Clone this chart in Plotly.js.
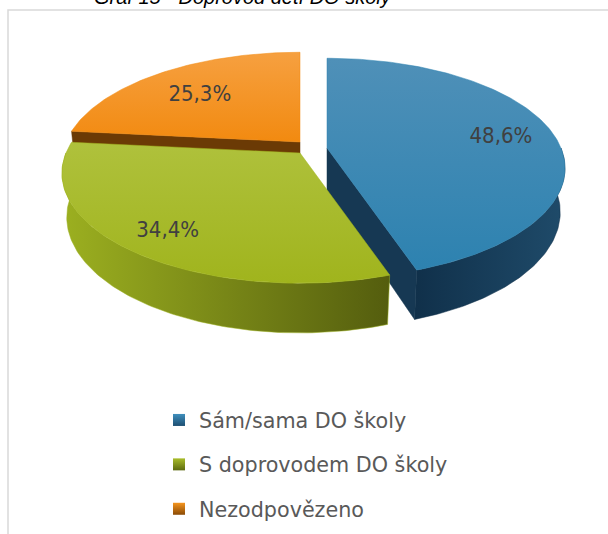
<!DOCTYPE html>
<html>
<head>
<meta charset="utf-8">
<script src="https://cdn.plot.ly/plotly-3.0.1.min.js"></script>
<style>
html,body{margin:0;padding:0;background:#fff;}
#chart{width:608px;height:534px;}
</style>
</head>
<body>
<div id="chart"></div>
<script>
// ---- data ----
const chartTitle = 'Graf 15 - Doprovod dětí DO školy';
const categories = ['Sám/sama DO školy', 'S doprovodem DO školy', 'Nezodpovězeno'];
const values = [48.6, 34.4, 25.3];
const labelTexts = values.map(v => v.toFixed(1).replace('.', ',') + '%');

// ---- style / geometry of the 3D pie ----
const W = 608, Hpx = 534;
const S = 234, PHI = 27 * Math.PI / 180, DCAM = 4.85, DEPTH = 0.212;
const centers = [[327, 148], [300, 153], [300, 142]];
const topGrad = [['#4f90b8', '#2d82b0'], ['#afc13c', '#a0b41d'], ['#f6a040', '#f28a10']];
const wallGrad = [['#10304a', '#1f4b6a'], ['#9cb020', '#545d0e'], ['#7a4406', '#5e3303']];
const faceCol = ['#163853', '#7f9018', '#6b3a05'];
const legendCol = [['#3f8fbd', '#1d4f72'], ['#a9bd2a', '#5d6a10'], ['#f5951e', '#8a4a05']];
const labelR = [0.77, 0.8, 0.7];
const labelDy = [2, 4, 4];

function proj(c, r, thDeg, z) {
  const th = thDeg * Math.PI / 180;
  const X = r * Math.sin(th), Y = r * Math.cos(th);
  const cp = Math.cos(PHI), sp = Math.sin(PHI);
  const dist = DCAM + Y * cp - z * sp;
  const k = DCAM / dist * S;
  return [c[0] + X * k, c[1] - (Y * sp + z * cp) * k];
}
function arc(c, a, b, z) {
  const pts = [];
  const n = Math.max(2, Math.ceil(Math.abs(b - a)));
  for (let i = 0; i <= n; i++) pts.push(proj(c, 1, a + (b - a) * i / n, z));
  return pts;
}
function poly(pts, fill) {
  const t = {
    type: 'scatter', mode: 'lines', fill: 'toself',
    x: pts.map(p => p[0]).concat([pts[0][0]]),
    y: pts.map(p => p[1]).concat([pts[0][1]]),
    line: {width: 0.5, color: typeof fill === 'string' ? fill : fill.edge},
    hoverinfo: 'skip', showlegend: false
  };
  if (typeof fill === 'string') t.fillcolor = fill;
  else t.fillgradient = fill.grad;
  return t;
}

const total = values.reduce((a, b) => a + b, 0);
const starts = [], ends = [];
let acc = 0;
values.forEach(v => { starts.push(acc / total * 360); acc += v; ends.push(acc / total * 360); });

const traces = [];
const drawOrder = [2, 0, 1];
drawOrder.forEach(i => {
  const c = centers[i], a1 = starts[i], a2 = ends[i];
  // outer wall (front half)
  const wa = Math.max(a1, 90), wb = Math.min(a2, 270);
  if (wb > wa) {
    const topA = arc(c, wa, wb, 0), botA = arc(c, wb, wa, -DEPTH);
    const pts = topA.concat(botA);
    const xs = pts.map(p => p[0]);
    traces.push(poly(pts, {edge: wallGrad[i][0], grad: {type: 'horizontal',
      start: Math.min(...xs), stop: Math.max(...xs),
      colorscale: [[0, wallGrad[i][0]], [1, wallGrad[i][1]]]}}));
  }
  // radial faces facing the viewer
  [[a1, Math.sin(a1 * Math.PI / 180) < -0.01], [a2, Math.sin(a2 * Math.PI / 180) > 0.01]].forEach(([a, vis]) => {
    if (!vis) return;
    const pts = [proj(c, 0, a, 0), proj(c, 1, a, 0), proj(c, 1, a, -DEPTH), proj(c, 0, a, -DEPTH)];
    traces.push(poly(pts, faceCol[i]));
  });
  // top surface
  const pts = [proj(c, 0, 0, 0)].concat(arc(c, a1, a2, 0));
  const ys = pts.map(p => p[1]);
  traces.push(poly(pts, {edge: topGrad[i][1], grad: {type: 'vertical',
    start: Math.min(...ys), stop: Math.max(...ys),
    colorscale: [[0, topGrad[i][0]], [1, topGrad[i][1]]]}}));
});

// data labels
const lp = values.map((v, i) => proj(centers[i], labelR[i], (starts[i] + ends[i]) / 2, 0));
traces.push({
  type: 'scatter', mode: 'text', x: lp.map(p => p[0]), y: lp.map((p, i) => p[1] + labelDy[i]),
  text: labelTexts, textposition: 'middle center', cliponaxis: false,
  textfont: {family: 'DejaVu Sans Condensed, DejaVu Sans, sans-serif', size: 22, color: '#404040'},
  hoverinfo: 'skip', showlegend: false
});

// legend entries
categories.forEach((name, i) => {
  traces.push({
    type: 'scatter', mode: 'markers', x: [null], y: [null], name: name,
    legendgroup: 'g' + i, showlegend: true,
    marker: {symbol: 'square', size: 12, color: legendCol[i][0],
      gradient: {type: 'vertical', color: legendCol[i][1]}, line: {width: 0}}
  });
});

const layout = {
  width: W, height: Hpx,
  margin: {l: 0, r: 0, t: 0, b: 0},
  paper_bgcolor: '#ffffff', plot_bgcolor: '#ffffff',
  xaxis: {range: [0, W], visible: false, fixedrange: true},
  yaxis: {range: [Hpx, 0], visible: false, fixedrange: true},
  showlegend: true,
  legend: {
    x: 159 / W, y: 1 - 400 / Hpx, xanchor: 'left', yanchor: 'top',
    font: {family: 'DejaVu Sans, sans-serif', size: 20.7, color: '#595959'},
    tracegroupgap: 14.5, itemclick: false, itemdoubleclick: false,
    bgcolor: 'rgba(0,0,0,0)'
  },
  shapes: [{
    type: 'rect', xref: 'paper', yref: 'paper',
    x0: 8 / W, x1: 1.05, y0: -0.05, y1: 1 - 10 / Hpx,
    line: {color: '#d9d9d9', width: 1.5}, fillcolor: 'rgba(0,0,0,0)', layer: 'below'
  }],
  annotations: [{
    text: '<i>' + chartTitle + '</i>', xref: 'paper', yref: 'paper',
    x: 243 / W, y: 1 + 3 / Hpx, xanchor: 'center', yanchor: 'middle',
    showarrow: false,
    font: {family: 'Liberation Sans, Arial, sans-serif', size: 20, color: '#000000'}
  }]
};

Plotly.newPlot('chart', traces, layout, {displayModeBar: false, staticPlot: true});
</script>
</body>
</html>
